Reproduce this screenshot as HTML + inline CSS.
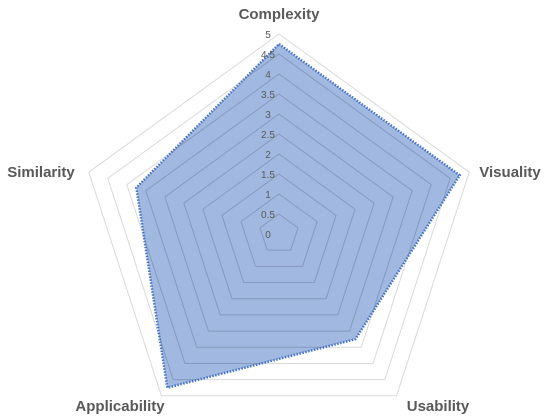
<!DOCTYPE html>
<html><head><meta charset="utf-8"><style>
html,body{margin:0;padding:0;background:#fff;}
svg{display:block;font-family:"Liberation Sans",sans-serif;}
</style></head><body>
<svg id="chart" width="550" height="417" viewBox="0 0 550 417">
<g id="grid"></g>
<g id="series"></g>
<g id="ticks"></g>
<g id="cats"></g>
</svg>
<script>
const categories = ["Complexity","Visuality","Usability","Applicability","Similarity"];
const values = [4.75, 4.75, 3.25, 4.75, 3.75];
const tickLabels = ["0","0.5","1","1.5","2","2.5","3","3.5","4","4.5","5"];
const tickValues = [0,0.5,1,1.5,2,2.5,3,3.5,4,4.5,5];

const NS="http://www.w3.org/2000/svg";
const cx=279, cy=234, R=200, maxV=5;
function pt(i,v){const a=-Math.PI/2+i*2*Math.PI/categories.length;const r=v/maxV*R;return [cx+r*Math.cos(a),cy+r*Math.sin(a)];}
function poly(v){return categories.map((c,i)=>pt(i,v).join(",")).join(" ");}
const grid=document.getElementById("grid");
tickValues.forEach((t)=>{if(t===0)return;
 const p=document.createElementNS(NS,"polygon");
 p.setAttribute("points",poly(t));p.setAttribute("fill","none");p.setAttribute("stroke","#d9d9d9");p.setAttribute("stroke-width","1");
 
 
 grid.appendChild(p);});
const ser=document.getElementById("series");
const sp=document.createElementNS(NS,"polygon");
sp.setAttribute("points",values.map((v,i)=>pt(i,v).join(",")).join(" "));
sp.setAttribute("fill","rgba(68,114,196,0.5)");sp.setAttribute("stroke","#4472c4");sp.setAttribute("stroke-width","2.5");sp.setAttribute("stroke-dasharray","1.5 1.5");


ser.appendChild(sp);
tickValues.forEach((t)=>{if(t===0)return;
 const p=document.createElementNS(NS,"polygon");
 p.setAttribute("points",poly(t));p.setAttribute("fill","none");p.setAttribute("stroke","rgba(120,130,150,0.3)");p.setAttribute("stroke-width","1");
 p.setAttribute("clip-path","url(#clipS)");
 
 
 ser.appendChild(p);});
const defs=document.createElementNS(NS,"defs");const cp=document.createElementNS(NS,"clipPath");cp.setAttribute("id","clipS");
const cpp=document.createElementNS(NS,"polygon");cpp.setAttribute("points",values.map((v,i)=>pt(i,v).join(",")).join(" "));cp.appendChild(cpp);defs.appendChild(cp);document.getElementById("chart").prepend(defs);
const tk=document.getElementById("ticks");
tickValues.forEach((t,i)=>{const tx=document.createElementNS(NS,"text");
 tx.setAttribute("x",cx-11);tx.setAttribute("y",cy-t/maxV*R+4);tx.setAttribute("text-anchor","middle");tx.setAttribute("font-size","10");tx.setAttribute("fill","#595959");
 tx.textContent=tickLabels[i];
 
 
 tk.appendChild(tx);});
const cl=document.getElementById("cats");
const catPos=[[279,19,"middle"],[510,177,"middle"],[438,411,"middle"],[120,411,"middle"],[41,177,"middle"]];
categories.forEach((c,i)=>{const tx=document.createElementNS(NS,"text");
 tx.setAttribute("x",catPos[i][0]);tx.setAttribute("y",catPos[i][1]);tx.setAttribute("text-anchor",catPos[i][2]);
 tx.setAttribute("font-size","15");tx.setAttribute("font-weight","bold");tx.setAttribute("fill","#595959");
 tx.textContent=c;
 
 
 cl.appendChild(tx);});
</script>
</body></html>
